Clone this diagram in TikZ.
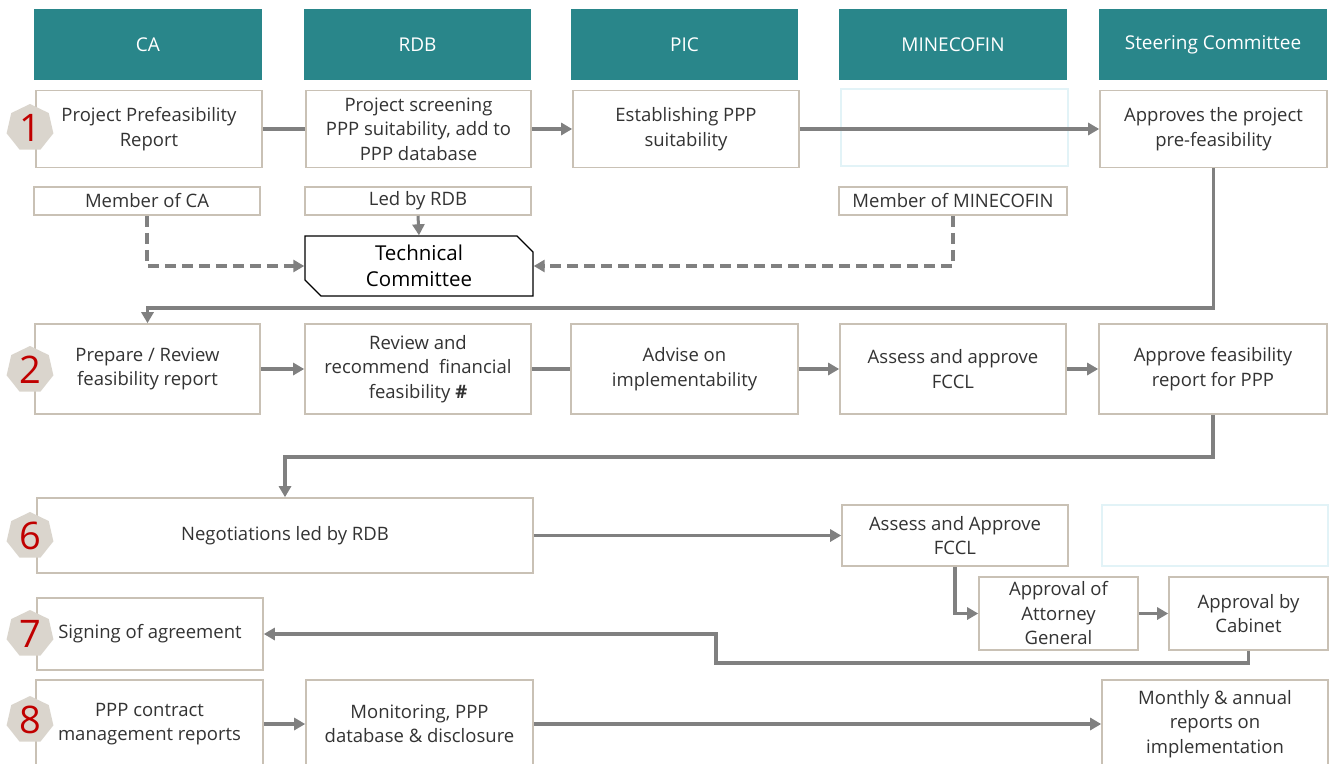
\documentclass[tikz,border=0pt]{standalone}
\usepackage{fontspec}
\setmainfont{Open Sans}
\usetikzlibrary{shapes.geometric,shapes.misc,arrows.meta}
\definecolor{hdrc}{HTML}{29868A}
\definecolor{boxc}{HTML}{C9C1B5}
\definecolor{emptyc}{HTML}{E2F3F7}
\definecolor{txtc}{HTML}{333333}
\definecolor{arrc}{HTML}{808080}
\definecolor{badgec}{HTML}{DAD5CD}
\definecolor{numc}{HTML}{C00000}
\newcommand{\bodyfnt}{\fontsize{18.5}{24.5}\selectfont}
\begin{document}
\begin{tikzpicture}[x=1pt,y=-1pt,
  hdr/.style={fill=hdrc, text=white, font=\fontsize{19}{22}\selectfont, minimum height=71pt, inner sep=0pt},
  box/.style={draw=boxc, line width=1.6pt, fill=white, text=txtc, align=center, font=\bodyfnt, inner sep=1pt},
  ebox/.style={draw=emptyc, line width=1.6pt, fill=white},
  mbox/.style={draw=boxc, line width=1.6pt, fill=white, text=txtc, font=\fontsize{18.5}{21}\selectfont, minimum height=28pt, inner sep=0pt},
  badge/.style={regular polygon, regular polygon sides=7, fill=badgec, minimum size=48pt, inner sep=0pt, text=numc, font=\fontsize{38}{38}\selectfont},
  arr/.style={draw=arrc, line width=3.8pt, -{Triangle[length=11pt,width=12pt]}},
  lin/.style={draw=arrc, line width=3.8pt},
  darr/.style={draw=arrc, line width=3.4pt, dash pattern=on 11pt off 6pt, -{Triangle[length=11pt,width=12pt]}}
]
\useasboundingbox (0,0) rectangle (1335,763);
\clip (0,0) rectangle (1335,763);
% headers
\node[hdr, minimum width=228pt] (h1) at (148,44.5) {CA};
\node[hdr, minimum width=227pt] (h2) at (417.5,44.5) {RDB};
\node[hdr, minimum width=227pt] (h3) at (684.5,44.5) {PIC};
\node[hdr, minimum width=228pt] (h4) at (953,44.5) {MINECOFIN};
\node[hdr, minimum width=228pt] (h5) at (1213,44.5) {Steering Committee};
% row 1
\node[box, minimum width=226pt, minimum height=77pt] (r1a) at (149,129) {Project Prefeasibility\\Report};
\node[box, minimum width=225pt, minimum height=77pt] (r1b) at (418.5,129) {Project screening\\PPP suitability, add to\\PPP database};
\node[box, minimum width=226pt, minimum height=77pt] (r1c) at (686,129) {Establishing PPP\\suitability};
\node[ebox, minimum width=227pt, minimum height=77pt] (r1d) at (954.5,127.5) {};
\node[box, minimum width=227pt, minimum height=77pt] (r1e) at (1213.5,129) {Approves the project\\pre-feasibility};
% members
\node[mbox, minimum width=226pt] (m1) at (147,201) {Member of CA};
\node[mbox, minimum width=226pt] (m2) at (418,201) {Led by RDB};
\node[mbox, minimum width=228pt] (m3) at (953,201) {Member of MINECOFIN};
\node[chamfered rectangle, chamfered rectangle corners={north east,south west}, chamfered rectangle xsep=8pt, chamfered rectangle ysep=8pt, draw=black, line width=1.4pt, fill=white, minimum width=228pt, minimum height=60pt, align=center, font=\fontsize{20.5}{26}\selectfont, inner sep=0pt] (tc) at (419,266) {Technical\\Committee};
% row 2
\node[box, minimum width=225pt, minimum height=90pt] (r2a) at (147.5,369) {Prepare / Review\\feasibility report};
\node[box, minimum width=226pt, minimum height=90pt] (r2b) at (418,369) {Review and\\recommend~ financial\\feasibility \textbf{\#}};
\node[box, minimum width=227pt, minimum height=90pt] (r2c) at (684.5,369) {Advise on\\implementability};
\node[box, minimum width=226pt, minimum height=90pt] (r2d) at (953,369) {Assess and approve\\FCCL};
\node[box, minimum width=228pt, minimum height=90pt] (r2e) at (1213,369) {Approve feasibility\\report for PPP};
% row 6
\node[box, minimum width=496pt, minimum height=75pt] (neg) at (285,535.5) {Negotiations led by RDB};
\node[box, minimum width=226pt, minimum height=61pt] (f6) at (955,535.5) {Assess and Approve\\FCCL};
\node[ebox, minimum width=226pt, minimum height=61pt] (e6) at (1215,535.5) {};
\node[box, minimum width=159pt, minimum height=73pt] (att) at (1058.5,613.5) {Approval of\\Attorney\\General};
\node[box, minimum width=159pt, minimum height=73pt] (cab) at (1248.5,613.5) {Approval by\\Cabinet};
% row 7
\node[box, minimum width=226pt, minimum height=72pt] (sign) at (150,634) {Signing of agreement};
% row 8
\node[box, minimum width=227pt, minimum height=88pt] (p8) at (149.5,724) {PPP contract\\management reports};
\node[box, minimum width=227pt, minimum height=88pt] (mon) at (419.5,724) {Monitoring, PPP\\database \& disclosure};
\node[box, minimum width=226pt, minimum height=88pt] (mth) at (1215,724) {Monthly \& annual\\reports on\\implementation};
% coordinates
\coordinate (k1) at (0,308);
\coordinate (k2) at (0,457);
\coordinate (k3) at (716,663);
% connectors row 1
\draw[lin] (r1a.east) -- (r1b.west);
\draw[arr] (r1b.east) -- (r1c.west);
\draw[arr] (r1c.east) -- (r1e.west);
\draw[darr] (m1.south) |- (tc.west);
\draw[arr, line width=3pt] (m2.south) -- (tc.north);
\draw[darr] (m3.south) |- (tc.east);
\draw[arr] (r1e.south) -- (r1e.south |- k1) -| (r2a.north);
% row 2
\draw[arr] (r2a.east) -- (r2b.west);
\draw[lin] (r2b.east) -- (r2c.west);
\draw[arr] (r2c.east) -- (r2d.west);
\draw[arr] (r2d.east) -- (r2e.west);
\draw[arr] (r2e.south) -- (r2e.south |- k2) -| (neg.north);
% row 6/7
\draw[arr] (neg.east) -- (f6.west);
\draw[arr] (f6.south) |- (att.west);
\draw[arr] (att.east) -- (cab.west);
\draw[arr] (cab.south) |- (k3) |- (sign.east);
% row 8
\draw[arr] (p8.east) -- (mon.west);
\draw[arr] (mon.east) -- (mth.west);
% badges
\node[badge] (b1) at (30,128) {1};
\node[badge] (b2) at (30,370) {2};
\node[badge] (b6) at (30,536) {6};
\node[badge] (b7) at (30,634) {7};
\node[badge] (b8) at (30,720) {8};
\end{tikzpicture}
\end{document}
